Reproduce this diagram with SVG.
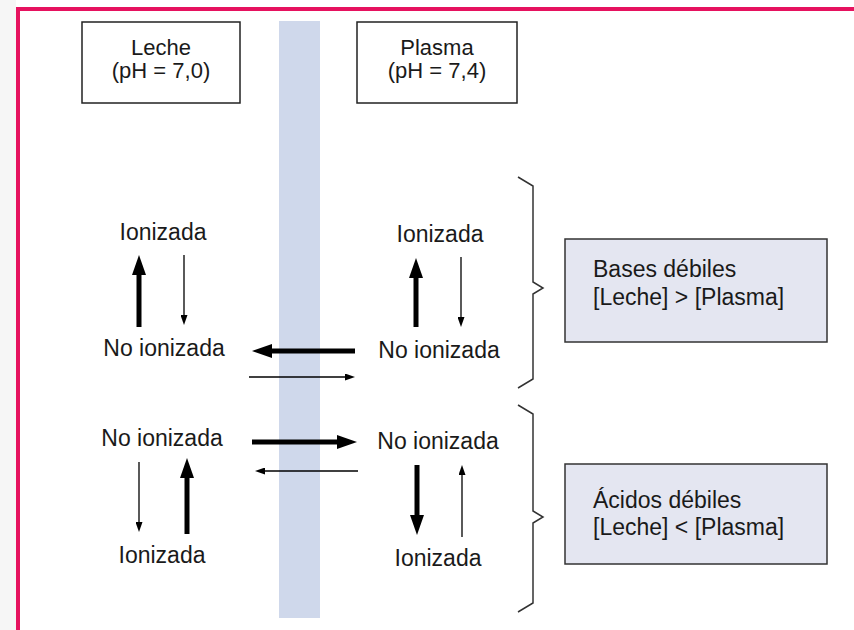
<svg xmlns="http://www.w3.org/2000/svg" width="854" height="630" viewBox="0 0 854 630">
<style>
  text { font-family: "Liberation Sans", Arial, sans-serif; fill: #1a1a1a; }
  .lbl { font-size: 23px; text-anchor: middle; }
  .box { font-size: 22px; text-anchor: middle; }
  .info { font-size: 23px; }
  .hdr { fill: #ffffff; stroke: #222; stroke-width: 1.5; }
  .res { fill: #e4e6f1; stroke: #333; stroke-width: 1.5; }
  .thick { stroke: #000; stroke-width: 5; fill: none; }
  .thin { stroke: #000; stroke-width: 1.3; fill: none; }
  .brace { stroke: #333; stroke-width: 1.5; fill: none; }
</style>
<defs>
  <marker id="hThick" markerUnits="userSpaceOnUse" markerWidth="20" markerHeight="14" refX="2" refY="7" orient="auto">
    <path d="M0,0 L20,7 L0,14 Z" fill="#000"/>
  </marker>
  <marker id="hThin" markerUnits="userSpaceOnUse" markerWidth="10" markerHeight="7" refX="1" refY="3.5" orient="auto">
    <path d="M0,0 L10,3.5 L0,7 Z" fill="#000"/>
  </marker>
</defs>
<rect x="0" y="0" width="854" height="630" fill="#ffffff"/>
<rect x="0" y="0" width="16" height="630" fill="#f6f6f6"/>
<path d="M18,630 L18,9 L854,9" fill="none" stroke="#e6125f" stroke-width="4"/>

<g id="membrana">
  <rect x="279" y="21" width="41" height="597" fill="#cfd8eb"/>
</g>

<g id="leche">
  <rect class="hdr" x="82" y="22" width="158" height="81"/>
  <text class="box" x="161" y="55">Leche</text>
  <text class="box" x="161" y="78">(pH = 7,0)</text>
</g>
<g id="plasma">
  <rect class="hdr" x="357" y="22" width="160" height="81"/>
  <text class="box" x="437" y="55">Plasma</text>
  <text class="box" x="437" y="78">(pH = 7,4)</text>
</g>

<g id="leche-bases">
  <text class="lbl" x="163" y="240">Ionizada</text>
  <text class="lbl" x="164" y="356">No ionizada</text>
</g>
<g id="plasma-bases">
  <text class="lbl" x="440" y="242">Ionizada</text>
  <text class="lbl" x="439" y="358">No ionizada</text>
</g>
<g id="leche-acidos">
  <text class="lbl" x="162" y="446">No ionizada</text>
  <text class="lbl" x="162" y="563">Ionizada</text>
</g>
<g id="plasma-acidos">
  <text class="lbl" x="438" y="449">No ionizada</text>
  <text class="lbl" x="438" y="566">Ionizada</text>
</g>

<g id="bases">
  <rect class="res" x="565" y="239" width="262" height="103"/>
  <text class="info" x="593" y="277">Bases débiles</text>
  <text class="info" x="593" y="305">[Leche] &gt; [Plasma]</text>
</g>
<g id="acidos">
  <rect class="res" x="565" y="464" width="262" height="100"/>
  <text class="info" x="593" y="508">Ácidos débiles</text>
  <text class="info" x="593" y="535">[Leche] &lt; [Plasma]</text>
</g>

<g id="conectores">
  <!-- left column, bases -->
  <line class="thick" x1="139" y1="327" x2="139" y2="273" marker-end="url(#hThick)"/>
  <line class="thin" x1="184" y1="255" x2="184" y2="316" marker-end="url(#hThin)"/>
  <!-- across membrane, bases -->
  <line class="thick" x1="355" y1="351" x2="270" y2="351" marker-end="url(#hThick)"/>
  <line class="thin" x1="249" y1="377" x2="346" y2="377" marker-end="url(#hThin)"/>
  <!-- right column, bases -->
  <line class="thick" x1="416" y1="327" x2="416" y2="276" marker-end="url(#hThick)"/>
  <line class="thin" x1="461" y1="257" x2="461" y2="318" marker-end="url(#hThin)"/>
  <!-- across membrane, acids -->
  <line class="thick" x1="252" y1="442" x2="339" y2="442" marker-end="url(#hThick)"/>
  <line class="thin" x1="358" y1="471" x2="264" y2="471" marker-end="url(#hThin)"/>
  <!-- left column, acids -->
  <line class="thin" x1="139" y1="462" x2="139" y2="523" marker-end="url(#hThin)"/>
  <line class="thick" x1="187" y1="534" x2="187" y2="476" marker-end="url(#hThick)"/>
  <!-- right column, acids -->
  <line class="thick" x1="417" y1="465" x2="417" y2="517" marker-end="url(#hThick)"/>
  <line class="thin" x1="462" y1="537" x2="462" y2="474" marker-end="url(#hThin)"/>
  <!-- braces -->
  <path class="brace" d="M518,177 L533,186 L533,282 L543,288 L533,294 L533,379 L518,388"/>
  <path class="brace" d="M518,405 L533,414 L533,511 L543,517 L533,523 L533,603 L518,612"/>
</g>
</svg>
